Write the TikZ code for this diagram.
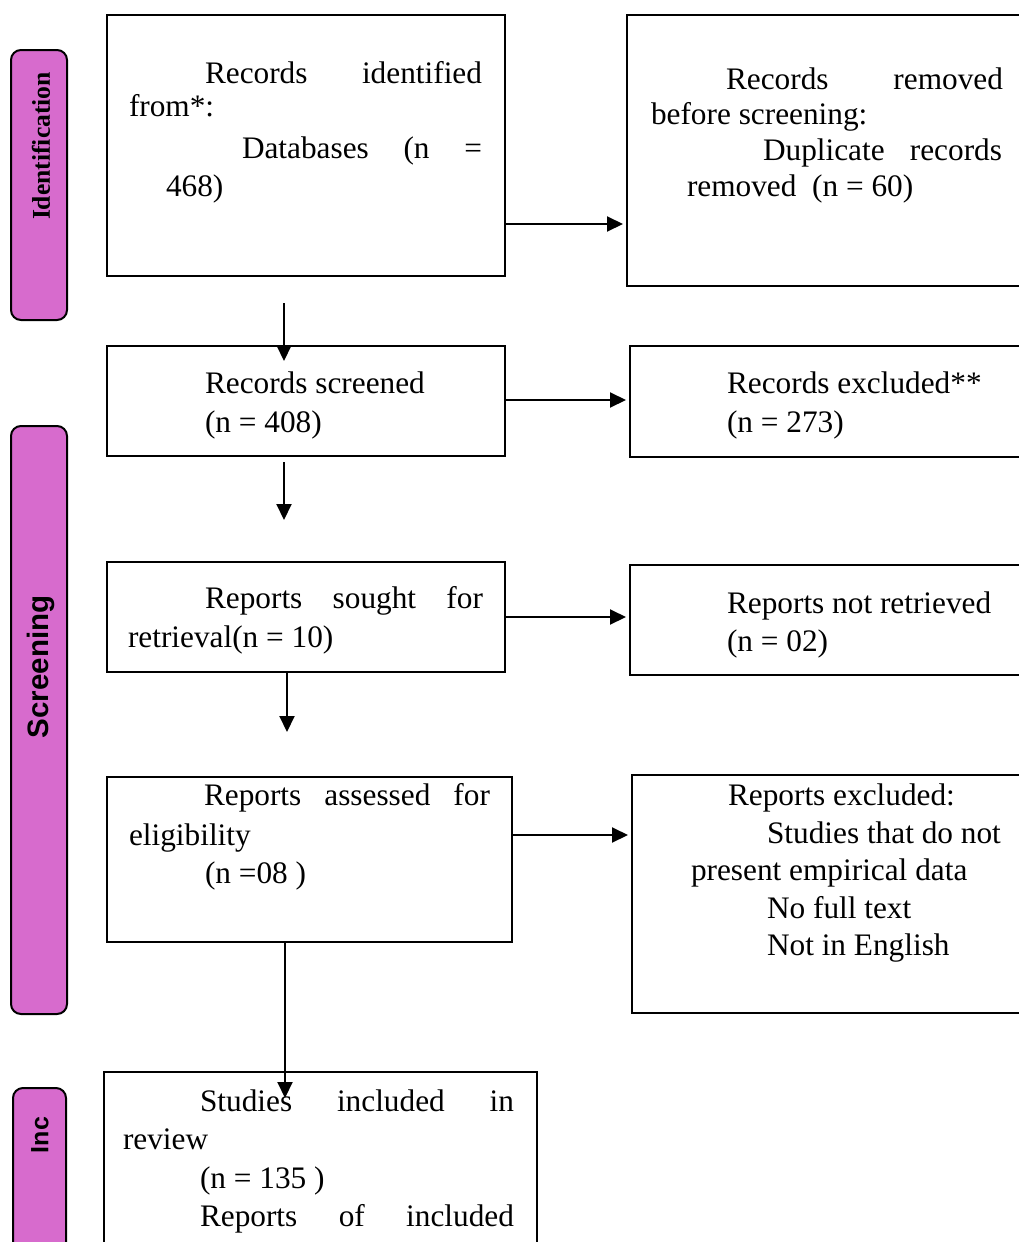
\documentclass[tikz,border=0pt]{standalone}
\usepackage{fontspec}
\setmainfont{Liberation Serif}
\newfontfamily\arialfont{Liberation Sans}
\usetikzlibrary{arrows.meta}
\definecolor{pillcol}{RGB}{215,107,205}
\begin{document}
\begin{tikzpicture}[x=1pt,y=-1pt,
  box/.style={draw,line width=2pt,rectangle,inner sep=0pt,outer sep=0pt,anchor=north west},
  pillbox/.style={draw,line width=2pt,fill=pillcol,rounded corners=10pt,rectangle,inner sep=0pt,outer sep=0pt,anchor=north west},
  ln/.style={anchor=base west,inner sep=0pt,outer sep=0pt,font=\fontsize{31.3}{37}\selectfont},
  arr/.style={line width=2pt,-{Triangle[length=16pt,width=15pt]}},
  sidelab/.style={rotate=90,inner sep=0pt,font=\bfseries},
]
\useasboundingbox (0,0) rectangle (1019,1242);
\clip (0,0) rectangle (1019,1242);

% side pills
\node[pillbox,minimum width=56pt,minimum height=270pt] (p1) at (11,50) {};
\node[pillbox,minimum width=56pt,minimum height=588pt] (p2) at (11,426) {};
\node[pillbox,minimum width=53pt,minimum height=200pt] (p3) at (13,1088) {};
\node[sidelab,font=\fontsize{25.6}{30}\selectfont\bfseries] (p1t) at (41,146) {Identification};
\node[sidelab,font=\fontsize{29.5}{34}\selectfont\arialfont\bfseries] (p2t) at (41,667) {Screening};
\node[sidelab,font=\fontsize{25}{30}\selectfont\arialfont\bfseries] (p3t) at (40,1135) {Inc};

% boxes
\node[box,minimum width=398pt,minimum height=261pt] (b1) at (107,15) {};
\node[box,minimum width=420pt,minimum height=271pt] (b2) at (627,15) {};
\node[box,minimum width=398pt,minimum height=110pt] (b3) at (107,346) {};
\node[box,minimum width=420pt,minimum height=111pt] (b4) at (630,346) {};
\node[box,minimum width=398pt,minimum height=110pt] (b5) at (107,562) {};
\node[box,minimum width=420pt,minimum height=110pt] (b6) at (630,565) {};
\node[box,minimum width=405pt,minimum height=165pt] (b7) at (107,777) {};
\node[box,minimum width=420pt,minimum height=238pt] (b8) at (632,775) {};
\node[box,minimum width=433pt,minimum height=200pt] (b9) at (104,1072) {};

% texts box 1
\node[ln] (t1a) at (205,83) {\makebox[277pt][s]{Records identified}};
\node[ln] (t1b) at (129,116) {from*:};
\node[ln] (t1c) at (242,158) {\makebox[240pt][s]{Databases (n =}};
\node[ln] (t1d) at (166,196) {468)};
% box 2
\node[ln] (t2a) at (726,89) {\makebox[277pt][s]{Records removed}};
\node[ln] (t2b) at (651,124) {before screening:};
\node[ln] (t2c) at (763,160) {\makebox[239pt][s]{Duplicate records}};
\node[ln] (t2d) at (687,196) {removed\ \ (n = 60)};
% box 3
\node[ln] (t3a) at (205,393) {Records screened};
\node[ln] (t3b) at (205,432) {(n = 408)};
% box 4
\node[ln] (t4a) at (727,393) {Records excluded**};
\node[ln] (t4b) at (727,432) {(n = 273)};
% box 5
\node[ln] (t5a) at (205,608) {\makebox[278pt][s]{Reports sought for}};
\node[ln] (t5b) at (128,647) {retrieval(n = 10)};
% box 6
\node[ln] (t6a) at (727,613) {Reports not retrieved};
\node[ln] (t6b) at (727,651) {(n = 02)};
% box 7
\node[ln] (t7a) at (204,805) {\makebox[286pt][s]{Reports assessed for}};
\node[ln] (t7b) at (129,845) {eligibility};
\node[ln] (t7c) at (205,883) {(n =08 )};
% box 8
\node[ln] (t8a) at (728,805) {Reports excluded:};
\node[ln] (t8b) at (767,843) {Studies that do not};
\node[ln] (t8c) at (691,880) {present empirical data};
\node[ln] (t8d) at (767,918) {No full text};
\node[ln] (t8e) at (767,955) {Not in English};
% box 9
\node[ln] (t9a) at (200,1111) {\makebox[314pt][s]{Studies included in}};
\node[ln] (t9b) at (123,1149) {review};
\node[ln] (t9c) at (200,1188) {(n = 135 )};
\node[ln] (t9d) at (200,1226) {\makebox[314pt][s]{Reports of included}};

% connector levels and free ends
\coordinate (y1) at (0,224);
\coordinate (y4) at (0,400);
\coordinate (y5) at (0,617);
\coordinate (y7) at (0,835);
\coordinate (a2s) at (284,303);
\coordinate (a2e) at (284,361);
\coordinate (a3s) at (284,462);
\coordinate (a3e) at (284,520);
\coordinate (a6e) at (287,732);
\coordinate (a8e) at (285,1098);

\draw[arr] (b1.east |- y1) -- ([xshift=-4pt]b2.west |- y1);
\draw[arr] (a2s) -- (a2e);
\draw[arr] (a3s) -- (a3e);
\draw[arr] (b3.east |- y4) -- ([xshift=-4pt]b4.west |- y4);
\draw[arr] (b5.east |- y5) -- ([xshift=-4pt]b6.west |- y5);
\draw[arr] (a6e |- b5.south) -- (a6e);
\draw[arr] (b7.east |- y7) -- ([xshift=-4pt]b8.west |- y7);
\draw[arr] (a8e |- b7.south) -- (a8e);
\end{tikzpicture}
\end{document}
